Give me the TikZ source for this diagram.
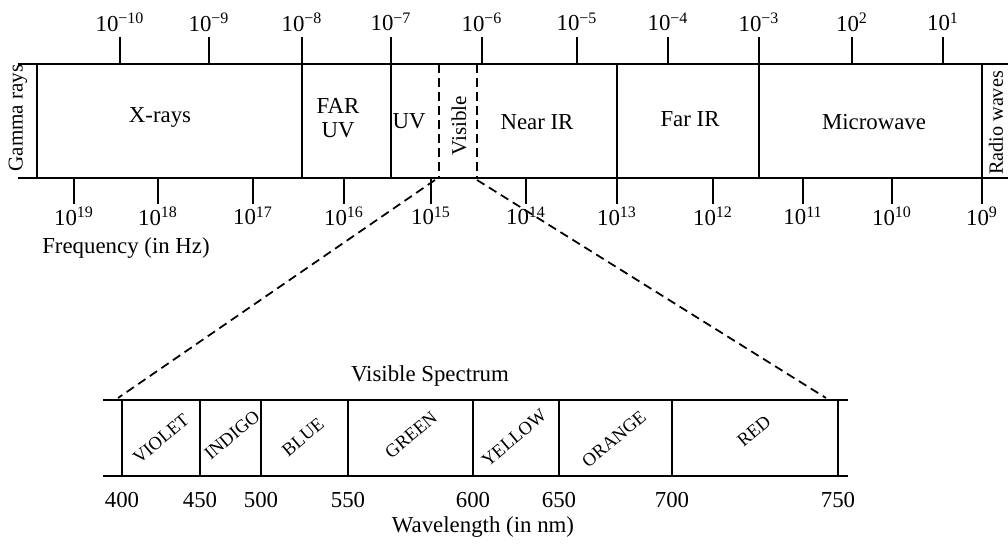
\documentclass[tikz,border=0pt]{standalone}
\usepackage{fontspec}
\setmainfont{Liberation Serif}
\usetikzlibrary{positioning}

\begin{document}
\begin{tikzpicture}[x=0.02cm,y=-0.02cm,line width=1pt,font=\fontsize{13}{14}\selectfont,
    gap/.style={dashed,dash pattern=on 5pt off 3pt},
    colr/.style={rotate=40,inner sep=0pt,font=\fontsize{10.5}{12}\selectfont}]
  \useasboundingbox (0,0) rectangle (1008,550);
  % electromagnetic spectrum band
  \draw (18,64)--(1008,64) (18,178)--(1008,178);
  \foreach \x in {37,302,391,617,759,982} \draw (\x,64)--(\x,178);
  \draw[gap] (439,64)--(439,178) (477,64)--(477,178);
  % wavelength ticks (top)
  \foreach \x/\e in {120/−10,209/−9,302/−8,391/−7,482/−6,577/−5,668/−4,759/−3,852/2,943/1}{
    \draw (\x,37)--(\x,64);
    \node (wl\x) at (\x,22) {10\textsuperscript{\e}};
  }
  % frequency ticks (bottom)
  \foreach \x/\e in {74/19,158/18,253/17,344/16,431/15,526/14,617/13,713/12,803/11,892/10,982/9}{
    \draw (\x,178)--(\x,204);
    \node (fq\x) at (\x,216) {10\textsuperscript{\e}};
  }
  \node (freq) at (126,248) {Frequency (in Hz)};
  \node[rotate=90,inner sep=1pt,font=\fontsize{12}{14}\selectfont] (gamma) at (18,118) {Gamma rays};
  \node (xray) at (160,117) {X-rays};
  \node[align=center] (faruv) at (338,118) {FAR\\UV};
  \node (uv) at (409,121) {UV};
  \node[rotate=90,inner sep=1pt,font=\fontsize{12}{14}\selectfont] (vis) at (459,126) {Visible};
  \node (nearir) at (537,122) {Near IR};
  \node (farir) at (690,119) {Far IR};
  \node (micro) at (874,122) {Microwave};
  \node[rotate=90,inner sep=1pt,font=\fontsize{11.5}{13}\selectfont] (radio) at (996,123) {Radio waves};
  % visible spectrum band
  \draw (103,400)--(848,400) (103,476)--(848,476);
  \foreach \x/\n in {122/400,200/450,261/500,348/550,473/600,559/650,672/700,838/750}{
    \draw (\x,400)--(\x,476);
    \node (nm\n) at (\x,500) {\n};
  }
  \node[colr] (violet) at (161,439) {VIOLET};
  \node[colr] (indigo) at (232,435) {INDIGO};
  \node[colr] (blue) at (303,437) {BLUE};
  \node[colr] (green) at (411,435) {GREEN};
  \node[colr] (yellow) at (514,438) {YELLOW};
  \node[colr] (orange) at (614,439) {ORANGE};
  \node[colr] (red) at (754,431) {RED};
  \node (visspec) at (430,376) {Visible Spectrum};
  \node (wlen) at (483,527) {Wavelength (in nm)};
  % zoom lines
  \coordinate (vl) at (435,180);
  \coordinate (vr) at (477,180);
  \coordinate (sl) at (118,398);
  \coordinate (sr) at (826,398);
  \draw[gap] (vl)--(sl) (vr)--(sr);
\end{tikzpicture}
\end{document}
